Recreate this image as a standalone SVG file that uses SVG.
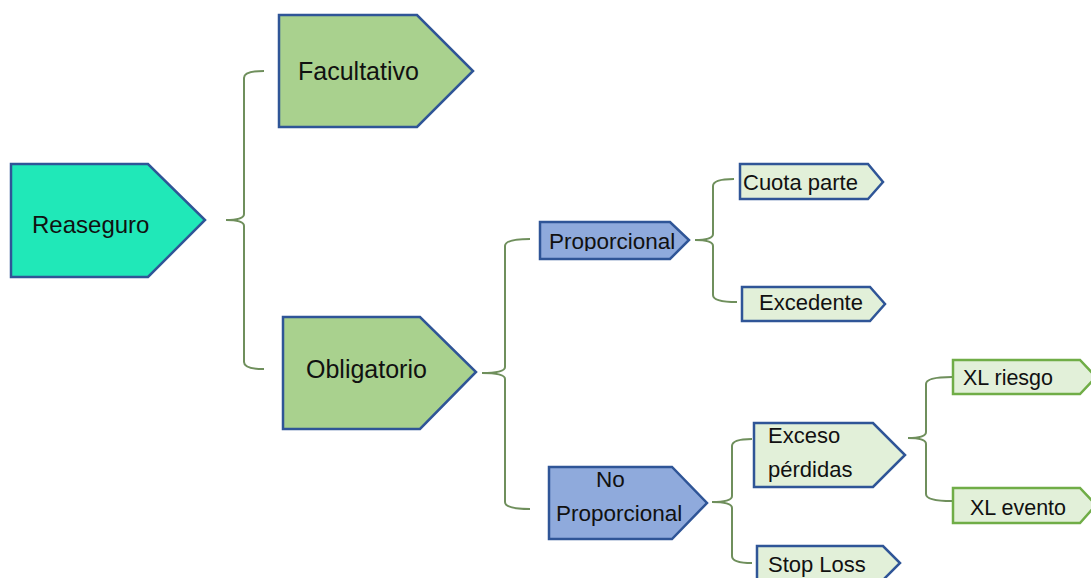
<svg xmlns="http://www.w3.org/2000/svg" width="1091" height="578" viewBox="0 0 1091 578">
<defs>
<style>
.n{stroke:#2F5597;stroke-width:2.5;stroke-linejoin:miter}
.root{fill:#20E8B8}
.l1{fill:#A9D18E}
.l2{fill:#8FAADC}
.l3{fill:#E2F0D9}
.g{stroke:#70AD47}
.t{font-family:"Liberation Sans",Arial,sans-serif;fill:#111111}
.br{fill:none;stroke:#6F8F5C;stroke-width:2}
</style>
<clipPath id="clipProp"><rect x="540" y="222" width="150" height="29"/></clipPath>
</defs>
<rect width="1091" height="578" fill="#ffffff"/>
<g id="connectors">
<path class="br" d="M264,71 Q244,71 244,78 L244,214 Q244,220 226,220 Q244,220 244,226 L244,362 Q244,369 264,369"/>
<path class="br" d="M530,239 Q505,239 505,246 L505,367 Q505,373 482,373 Q505,373 505,379 L505,502 Q505,509 530,509"/>
<path class="br" d="M734,179 Q713,179 713,186 L713,234 Q713,240 695,240 Q713,240 713,246 L713,295 Q713,302 737,302"/>
<path class="br" d="M752,439 Q732,439 732,446 L732,496 Q732,502 712,502 Q732,502 732,508 L732,556 Q732,563 752,563"/>
<path class="br" d="M952,377 Q926,377 926,384 L926,432 Q926,438 908,438 Q926,438 926,444 L926,494 Q926,501 952,501"/>
</g>
<g id="reaseguro">
<polygon class="n root" points="11,164 148,164 205,220 148,277 11,277"/>
<text class="t" x="32" y="233" font-size="24">Reaseguro</text>
</g>
<g id="facultativo">
<polygon class="n l1" points="279,15 417,15 473,71 417,127 279,127"/>
<text class="t" x="298" y="80" font-size="25">Facultativo</text>
</g>
<g id="obligatorio">
<polygon class="n l1" points="283,317 420,317 476,372 420,429 283,429"/>
<text class="t" x="306" y="378" font-size="25">Obligatorio</text>
</g>
<g id="proporcional">
<polygon class="n l2" points="540,222 670,222 689,240 670,259 540,259"/>
<text class="t" x="549" y="249" font-size="22.5" clip-path="url(#clipProp)">Proporcional</text>
</g>
<g id="no-proporcional">
<polygon class="n l2" points="549,467 672,467 707,503 672,539 549,539"/>
<text class="t" x="596" y="487" font-size="22.5">No</text>
<text class="t" x="556" y="521" font-size="22.5">Proporcional</text>
</g>
<g id="cuota-parte">
<polygon class="n l3" points="740,164 868,164 883,182 868,199 740,199"/>
<text class="t" x="743" y="190" font-size="22">Cuota parte</text>
</g>
<g id="excedente">
<polygon class="n l3" points="742,287 870,287 885,304 870,321 742,321"/>
<text class="t" x="759" y="310" font-size="22">Excedente</text>
</g>
<g id="exceso-perdidas">
<polygon class="n l3" points="754,423 873,423 905,455 873,487 754,487"/>
<text class="t" x="768" y="443" font-size="22">Exceso</text>
<text class="t" x="768" y="477" font-size="22">pérdidas</text>
</g>
<g id="stop-loss">
<polygon class="n l3" points="757,546 883,546 900,563 883,580 757,580"/>
<text class="t" x="768" y="572" font-size="22">Stop Loss</text>
</g>
<g id="xl-riesgo">
<polygon class="n l3 g" points="953,360 1080,360 1096,377 1080,394 953,394"/>
<text class="t" x="963" y="385" font-size="21.5">XL riesgo</text>
</g>
<g id="xl-evento">
<polygon class="n l3 g" points="953,488 1080,488 1096,505 1080,523 953,523"/>
<text class="t" x="970" y="515" font-size="21.5">XL evento</text>
</g>
</svg>
